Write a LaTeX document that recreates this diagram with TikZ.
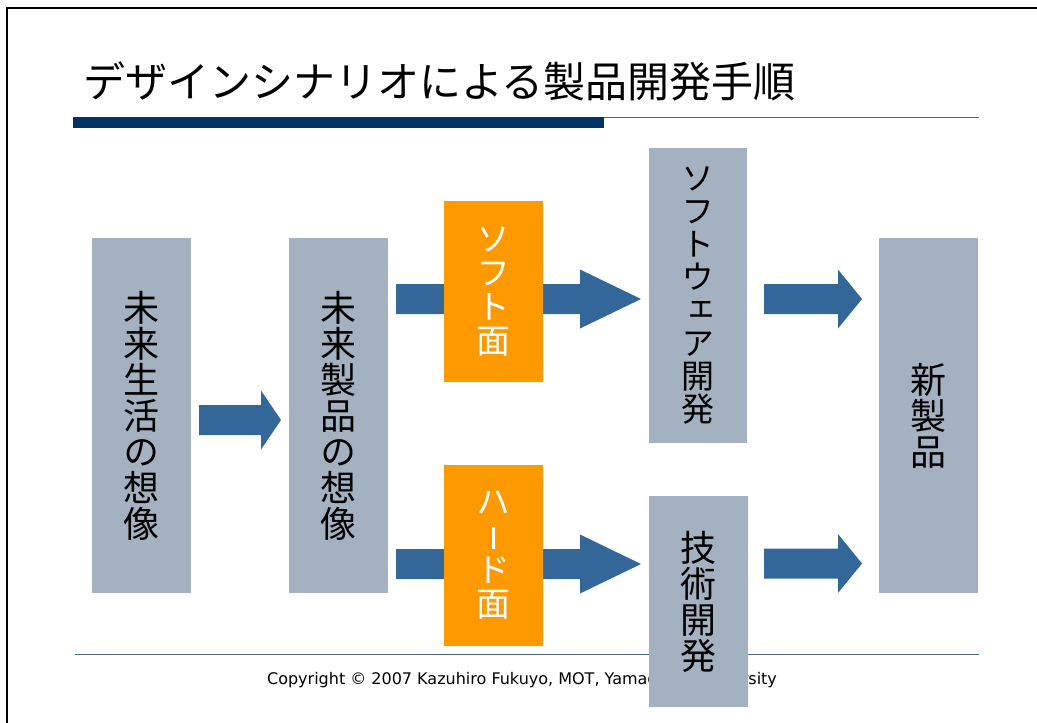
\documentclass[tikz,border=0pt]{standalone}
\usepackage{fontspec}
\setmainfont{DejaVu Sans}
\newfontfamily\jpfont{Noto Sans CJK JP}
\newfontfamily\jpvert[RawFeature=+vert]{Noto Sans CJK JP}
\definecolor{boxgray}{RGB}{163,177,193}
\definecolor{orangebox}{RGB}{255,153,0}
\definecolor{arrowblue}{RGB}{51,102,153}
\definecolor{navybar}{RGB}{0,51,102}
\definecolor{lineblue}{RGB}{70,102,142}
\newcommand\blockarr[4]{%
  \fill[arrowblue] (#1,#4-15) -- (#2,#4-15) -- (#2,#4-29.5) -- (#3,#4) -- (#2,#4+29.5) -- (#2,#4+15) -- (#1,#4+15) -- cycle;}
\newcommand\vbar{\makebox[34pt]{\rule[0pt]{2.4pt}{22pt}}}
\tikzset{
  graybox/.style={fill=boxgray, inner sep=0pt, align=center, text=black},
  orangebox/.style={fill=orangebox, inner sep=0pt, align=center, text=white,
    minimum width=99pt, minimum height=181pt,
    font=\jpvert\fontsize{34}{34}\selectfont},
  bigtext/.style={font=\jpvert\fontsize{36}{36}\selectfont},
}
\begin{document}
\begin{tikzpicture}[x=1pt,y=-1pt]
\useasboundingbox (0,0) rectangle (1037,723);
% frame
\draw[line width=2.5pt] (7,723) -- (7,8) -- (1037,8);
% title
\node[anchor=base west, inner sep=0pt, font=\jpfont\fontsize{42}{42}\selectfont] (title) at (83,97) {デザインシナリオによる製品開発手順};
\fill[navybar] (73,117) rectangle (604,128);
\coordinate (hl1) at (604,117.6);
\coordinate (hl2) at (979,117.6);
\draw[lineblue, line width=1.4pt] (hl1) -- (hl2);
% footer
\node[anchor=base, inner sep=0pt, font=\fontsize{16}{18}\selectfont] (copy) at (522,684) {Copyright © 2007 Kazuhiro Fukuyo, MOT, Yamaguchi University};
\coordinate (fl1) at (75,654.5);
\coordinate (fl2) at (979,654.5);
\draw[lineblue, line width=1.4pt] (fl1) -- (fl2);
% arrows
\blockarr{199}{261}{281}{420}
\blockarr{396}{580}{641}{299}
\blockarr{396}{580}{641}{564}
\blockarr{764}{838}{862}{299}
\blockarr{764}{838}{862}{563.5}
% boxes
\node[graybox, bigtext, minimum width=99pt, minimum height=355pt] (b1) at (141.5,415.5) {未\\来\\生\\活\\の\\想\\像};
\node[graybox, bigtext, minimum width=99pt, minimum height=355pt] (b2) at (338.5,415.5) {未\\来\\製\\品\\の\\想\\像};
\node[orangebox] (o1) at (493.5,291.5) {ソ\\フ\\ト\\面};
\node[orangebox] (o2) at (493.5,555.5) {ハ\\\vbar\\ド\\面};
\node[graybox, font=\jpvert\fontsize{33}{33}\selectfont, minimum width=98pt, minimum height=295pt] (b5) at (698,295.5) {ソ\\フ\\ト\\ウ\\ェ\\ア\\開\\発};
\node[graybox, bigtext, minimum width=99pt, minimum height=211pt] (b6) at (698.5,601.5) {技\\術\\開\\発};
\node[graybox, bigtext, minimum width=99pt, minimum height=355pt] (b7) at (928.5,415.5) {新\\製\\品};
\end{tikzpicture}
\end{document}
